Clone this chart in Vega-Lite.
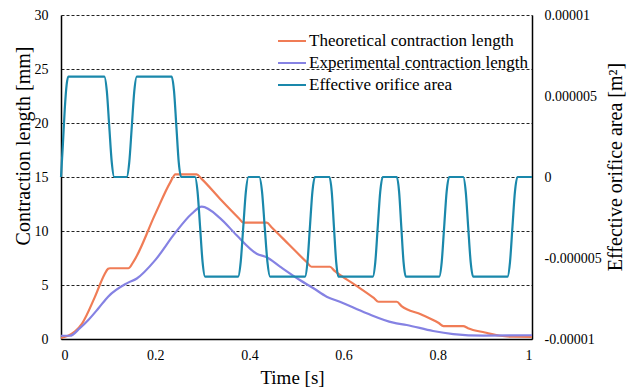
{
  "$schema": "https://vega.github.io/schema/vega-lite/v6.json",
  "width": 471,
  "height": 324,
  "autosize": {"type": "none"},
  "padding": {"left": 61, "top": 15, "right": 107, "bottom": 50},
  "background": "white",
  "config": {
    "font": "Liberation Serif, Times New Roman, serif",
    "view": {"stroke": null},
    "axis": {
      "labelFont": "Liberation Serif, Times New Roman, serif",
      "titleFont": "Liberation Serif, Times New Roman, serif",
      "labelColor": "black",
      "titleColor": "black",
      "titleFontWeight": "normal",
      "labelFontSize": 14,
      "domainColor": "black",
      "domainWidth": 1.5,
      "ticks": false
    },
    "legend": {
      "symbolType": "stroke",
      "symbolSize": 784,
      "symbolStrokeWidth": 2,
      "clipHeight": 16,
      "rowPadding": 5,
      "labelOffset": 2,
      "labelFontSize": 17,
      "labelFont": "Liberation Serif, Times New Roman, serif",
      "labelColor": "black",
      "padding": 0,
      "labelLimit": 0
    }
  },
  "datasets": {
    "theo": [
      {"t": 0, "mm": 0.1}, {"t": 0.015, "mm": 0.3}, {"t": 0.03, "mm": 0.7}, {"t": 0.045, "mm": 1.45},
      {"t": 0.072, "mm": 3.9}, {"t": 0.092, "mm": 5.95}, {"t": 0.1, "mm": 6.5}, {"t": 0.104, "mm": 6.55},
      {"t": 0.143, "mm": 6.55}, {"t": 0.153, "mm": 7.1}, {"t": 0.2, "mm": 11.56}, {"t": 0.232, "mm": 14.5},
      {"t": 0.243, "mm": 15.25}, {"t": 0.288, "mm": 15.25}, {"t": 0.298, "mm": 14.85}, {"t": 0.34, "mm": 12.87},
      {"t": 0.378, "mm": 11.16}, {"t": 0.387, "mm": 10.77}, {"t": 0.437, "mm": 10.77}, {"t": 0.447, "mm": 10.35},
      {"t": 0.485, "mm": 8.7}, {"t": 0.522, "mm": 7.1}, {"t": 0.532, "mm": 6.69}, {"t": 0.571, "mm": 6.69},
      {"t": 0.581, "mm": 6.3}, {"t": 0.625, "mm": 4.99}, {"t": 0.664, "mm": 3.8}, {"t": 0.674, "mm": 3.45},
      {"t": 0.713, "mm": 3.45}, {"t": 0.723, "mm": 3.05}, {"t": 0.765, "mm": 2.27}, {"t": 0.802, "mm": 1.48},
      {"t": 0.812, "mm": 1.2}, {"t": 0.854, "mm": 1.2}, {"t": 0.864, "mm": 1.0}, {"t": 0.9, "mm": 0.6},
      {"t": 0.932, "mm": 0.3}, {"t": 0.96, "mm": 0.21}, {"t": 1.0, "mm": 0.2}
    ],
    "expe": [
      {"t": 0, "mm": 0.3}, {"t": 0.019, "mm": 0.3}, {"t": 0.04, "mm": 1.0}, {"t": 0.058, "mm": 1.76},
      {"t": 0.08, "mm": 2.87}, {"t": 0.1, "mm": 3.92}, {"t": 0.1395, "mm": 5.15}, {"t": 0.161, "mm": 5.6},
      {"t": 0.2, "mm": 7.3}, {"t": 0.242, "mm": 9.8}, {"t": 0.2775, "mm": 11.6}, {"t": 0.299, "mm": 12.25},
      {"t": 0.3376, "mm": 11.2}, {"t": 0.373, "mm": 9.6}, {"t": 0.4155, "mm": 7.9}, {"t": 0.437, "mm": 7.56},
      {"t": 0.465, "mm": 6.7}, {"t": 0.507, "mm": 5.46}, {"t": 0.536, "mm": 4.7}, {"t": 0.564, "mm": 3.92},
      {"t": 0.592, "mm": 3.45}, {"t": 0.649, "mm": 2.38}, {"t": 0.7055, "mm": 1.51}, {"t": 0.734, "mm": 1.3},
      {"t": 0.79, "mm": 0.74}, {"t": 0.833, "mm": 0.46}, {"t": 0.897, "mm": 0.31}, {"t": 1.0, "mm": 0.35}
    ],
    "area": [
      {"t": 0, "a": 0}, {"t": 0.004, "a": 2.0e-6}, {"t": 0.008, "a": 4.2e-6}, {"t": 0.012, "a": 5.7e-6}, {"t": 0.0155, "a": 6.2e-6},
      {"t": 0.092, "a": 6.2e-6}, {"t": 0.0973, "a": 5.3e-6}, {"t": 0.1025, "a": 3.1e-6}, {"t": 0.1078, "a": 0.9e-6}, {"t": 0.113, "a": 0},
      {"t": 0.1395, "a": 0}, {"t": 0.1449, "a": 0.9e-6}, {"t": 0.1503, "a": 3.1e-6}, {"t": 0.1556, "a": 5.3e-6}, {"t": 0.161, "a": 6.2e-6},
      {"t": 0.235, "a": 6.2e-6}, {"t": 0.24, "a": 5.3e-6}, {"t": 0.245, "a": 3.1e-6}, {"t": 0.25, "a": 0.9e-6}, {"t": 0.255, "a": 0},
      {"t": 0.2845, "a": 0}, {"t": 0.2899, "a": -0.9e-6}, {"t": 0.2953, "a": -3.08e-6}, {"t": 0.3006, "a": -5.25e-6}, {"t": 0.306, "a": -6.15e-6},
      {"t": 0.376, "a": -6.15e-6}, {"t": 0.3815, "a": -5.25e-6}, {"t": 0.387, "a": -3.08e-6}, {"t": 0.3925, "a": -0.9e-6}, {"t": 0.398, "a": 0},
      {"t": 0.421, "a": 0}, {"t": 0.4268, "a": -0.9e-6}, {"t": 0.4325, "a": -3.08e-6}, {"t": 0.4383, "a": -5.25e-6}, {"t": 0.444, "a": -6.15e-6},
      {"t": 0.518, "a": -6.15e-6}, {"t": 0.5233, "a": -5.25e-6}, {"t": 0.5285, "a": -3.08e-6}, {"t": 0.5338, "a": -0.9e-6}, {"t": 0.539, "a": 0},
      {"t": 0.57, "a": 0}, {"t": 0.5748, "a": -0.9e-6}, {"t": 0.5795, "a": -3.08e-6}, {"t": 0.5843, "a": -5.25e-6}, {"t": 0.589, "a": -6.15e-6},
      {"t": 0.662, "a": -6.15e-6}, {"t": 0.6673, "a": -5.25e-6}, {"t": 0.6725, "a": -3.08e-6}, {"t": 0.6778, "a": -0.9e-6}, {"t": 0.683, "a": 0},
      {"t": 0.713, "a": 0}, {"t": 0.7178, "a": -0.9e-6}, {"t": 0.7225, "a": -3.08e-6}, {"t": 0.7273, "a": -5.25e-6}, {"t": 0.732, "a": -6.15e-6},
      {"t": 0.803, "a": -6.15e-6}, {"t": 0.8083, "a": -5.25e-6}, {"t": 0.8135, "a": -3.08e-6}, {"t": 0.8188, "a": -0.9e-6}, {"t": 0.824, "a": 0},
      {"t": 0.854, "a": 0}, {"t": 0.8593, "a": -0.9e-6}, {"t": 0.8645, "a": -3.08e-6}, {"t": 0.8698, "a": -5.25e-6}, {"t": 0.875, "a": -6.15e-6},
      {"t": 0.948, "a": -6.15e-6}, {"t": 0.9533, "a": -5.25e-6}, {"t": 0.9585, "a": -3.08e-6}, {"t": 0.9638, "a": -0.9e-6}, {"t": 0.969, "a": 0},
      {"t": 1.0, "a": 0}
    ]
  },
  "layer": [
    {
      "layer": [
        {
          "data": {"name": "theo"},
          "mark": {"type": "line", "interpolate": "monotone", "strokeWidth": 2.2},
          "encoding": {
            "x": {"field": "t", "type": "quantitative", "scale": {"domain": [0, 1], "nice": false},
              "axis": {"title": "Time [s]", "values": [0, 0.2, 0.4, 0.6, 0.8, 1], "format": "~g", "grid": false,
                "labelPadding": 9, "titleFontSize": 19, "titleX": 231, "titleY": 44, "titleBaseline": "alphabetic"}},
            "y": {"field": "mm", "type": "quantitative", "scale": {"domain": [0, 30], "nice": false},
              "axis": {"title": "Contraction length [mm]", "values": [0, 5, 10, 15, 20, 25, 30], "grid": true,
                "gridDash": [3, 2], "gridColor": "#222222", "gridWidth": 1, "labelPadding": 13,
                "titleFontSize": 20, "titleAngle": 270, "titleX": -32, "titleY": 130.5,
                "titleBaseline": "alphabetic", "titleAlign": "center"}},
            "color": {"datum": "Theoretical contraction length", "type": "nominal",
              "scale": {"domain": ["Theoretical contraction length", "Experimental contraction length", "Effective orifice area"],
                "range": ["#F07C56", "#8582E3", "#1A88AB"]},
              "legend": {"title": null, "orient": "none", "legendX": 216, "legendY": 18}}
          }
        },
        {
          "data": {"name": "expe"},
          "mark": {"type": "line", "interpolate": "monotone", "strokeWidth": 2.2},
          "encoding": {
            "x": {"field": "t", "type": "quantitative"},
            "y": {"field": "mm", "type": "quantitative"},
            "color": {"datum": "Experimental contraction length", "type": "nominal"}
          }
        }
      ]
    },
    {
      "data": {"name": "area"},
      "mark": {"type": "line", "interpolate": "monotone", "strokeWidth": 2.2},
      "encoding": {
        "x": {"field": "t", "type": "quantitative"},
        "y": {"field": "a", "type": "quantitative", "scale": {"domain": [-0.00001, 0.00001], "nice": false, "zero": false},
          "axis": {"orient": "right", "title": "Effective orifice area  [m²]",
            "values": [-0.00001, -0.000005, 0, 0.000005, 0.00001],
            "labelExpr": "replace(format(datum.value, '.6~f'), '\u2212', '-')",
            "grid": false, "labelPadding": 12, "titleFontSize": 20, "titleAngle": 270,
            "titleX": 89, "titleY": 151.5, "titleBaseline": "alphabetic", "titleAlign": "center"}},
        "color": {"datum": "Effective orifice area", "type": "nominal"}
      }
    }
  ],
  "resolve": {"scale": {"y": "independent"}}
}
